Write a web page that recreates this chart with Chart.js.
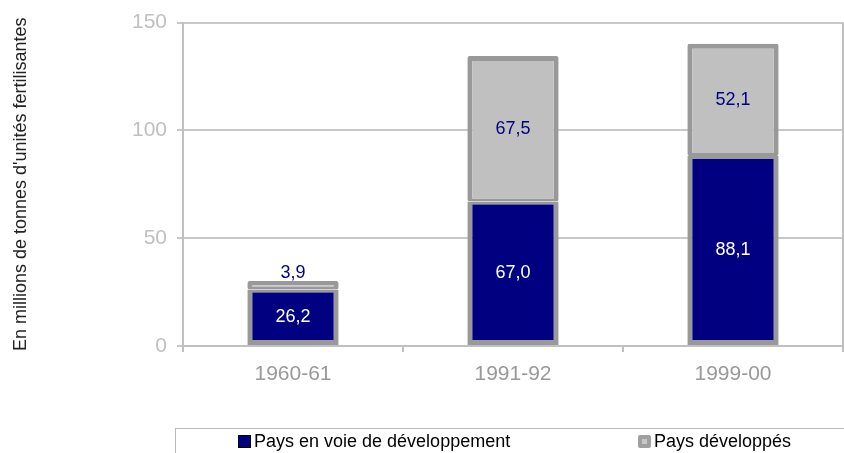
<!DOCTYPE html>
<html>
<head>
<meta charset="utf-8">
<script src="https://cdn.jsdelivr.net/npm/chart.js@4"></script>
<style>
  body { margin: 0; background: #fff; }
  #wrap { position: relative; width: 844px; height: 453px; }
  #legend {
    position: absolute; left: 175px; top: 428px; width: 680px; height: 40px;
    border: 1px solid #bbb; box-sizing: border-box;
    font-family: "Liberation Sans", Arial, sans-serif; font-size: 18px; color: #000;
  }
  .item { position: absolute; top: 2px; white-space: nowrap; }
  .sw { display: inline-block; width: 13px; height: 13px; margin-right: 3px; vertical-align: -1px; box-sizing: border-box; }
</style>
</head>
<body>
<div id="wrap">
  <canvas id="chart" width="844" height="453"></canvas>
  <div id="legend">
    <div class="item" style="left:62px"><span class="sw" style="background:#000080;border:1px solid #000"></span>Pays en voie de développement</div>
    <div class="item" style="left:462px"><span class="sw" style="background:#c8c8c8;border:4px solid #a0a0a0;border-radius:2px"></span>Pays développés</div>
  </div>
</div>
<script>
const categories = ['1960-61', '1991-92', '1999-00'];
const developing = [26.2, 67.0, 88.1];
const developed = [3.9, 67.5, 52.1];
const yTicks = [0, 50, 100, 150];

const fmt = (v) => v.toFixed(1).replace('.', ',');

const labelPlugin = {
  id: 'labels',
  afterDatasetsDraw(chart) {
    const ctx = chart.ctx;
    ctx.save();
    ctx.font = '18px "Liberation Sans", Arial, sans-serif';
    ctx.textAlign = 'center';
    ctx.textBaseline = 'middle';
    chart.data.datasets.forEach((ds, di) => {
      chart.getDatasetMeta(di).data.forEach((bar, i) => {
        const h = Math.abs(bar.base - bar.y);
        let y = (bar.y + bar.base) / 2;
        if (h < 20) y = bar.y - 8;
        ctx.fillStyle = di === 0 ? '#ffffff' : '#000080';
        ctx.fillText(fmt(ds.data[i]), bar.x, y);
      });
    });
    // right border of plot area
    const a = chart.chartArea;
    ctx.strokeStyle = '#c0c0c0';
    ctx.lineWidth = 2;
    ctx.beginPath();
    ctx.moveTo(a.right, a.top);
    ctx.lineTo(a.right, a.bottom);
    ctx.stroke();
    ctx.restore();
  }
};

new Chart(document.getElementById('chart'), {
  type: 'bar',
  data: {
    labels: categories,
    datasets: [
      {
        label: 'Pays en voie de développement',
        data: developing,
        backgroundColor: '#000080',
        borderColor: '#999999',
        borderWidth: { top: 3, bottom: 5, left: 5, right: 5 },
        borderSkipped: false,
        borderRadius: 2,
        barPercentage: 0.415,
        categoryPercentage: 1
      },
      {
        label: 'Pays développés',
        data: developed,
        backgroundColor: '#c0c0c0',
        borderColor: '#999999',
        borderWidth: { top: 5, bottom: 3, left: 5, right: 5 },
        borderSkipped: false,
        borderRadius: 2,
        barPercentage: 0.415,
        categoryPercentage: 1
      }
    ]
  },
  options: {
    responsive: false,
    animation: false,
    layout: { padding: { top: 20, right: 1, left: 0, bottom: 0 } },
    plugins: {
      legend: { display: false },
      tooltip: { enabled: false }
    },
    scales: {
      x: {
        stacked: true,
        grid: { offset: true, drawOnChartArea: false, color: '#c0c0c0', lineWidth: 2, tickLength: 6 },
        border: { color: '#c0c0c0', width: 2 },
        ticks: { color: '#999', font: { family: 'Liberation Sans', size: 21 }, padding: 10 },
        afterFit(scale) { scale.height = 107; }
      },
      y: {
        stacked: true,
        min: 0,
        max: 150,
        afterBuildTicks(scale) { scale.ticks = yTicks.map((v) => ({ value: v })); },
        grid: { color: '#c8c8c8', lineWidth: 2, tickLength: 6 },
        border: { color: '#c0c0c0', width: 2 },
        ticks: { color: '#c0c0c0', font: { family: 'Liberation Sans', size: 21 }, padding: 10 },
        title: {
          display: true,
          text: "En millions de tonnes d'unités fertilisantes",
          color: '#222',
          font: { family: 'Liberation Sans', size: 18 },
          padding: { top: 10, bottom: 0 }
        },
        afterFit(scale) { scale.width = 183; }
      }
    }
  },
  plugins: [labelPlugin]
});
</script>
</body>
</html>
